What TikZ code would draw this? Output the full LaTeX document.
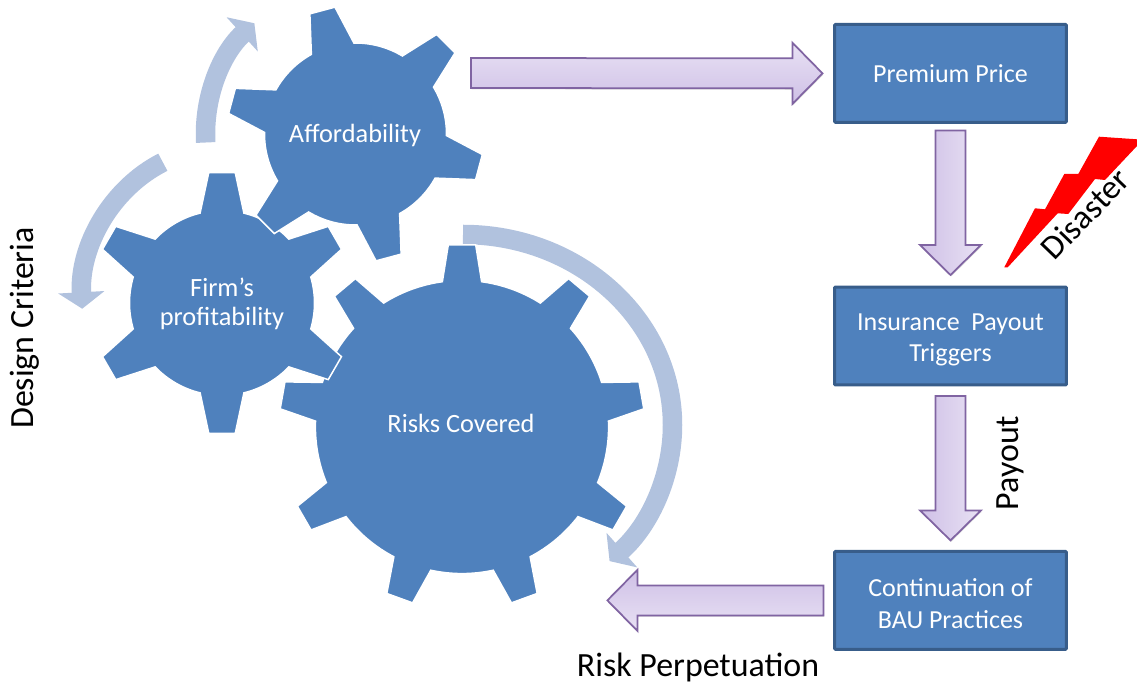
\documentclass[tikz,border=0pt]{standalone}
\usepackage{fontspec}
\setmainfont{Carlito}
\usetikzlibrary{calc,arrows.meta,shadows}

\definecolor{gearblue}{HTML}{4F81BD}
\definecolor{boxedge}{HTML}{385D8A}
\definecolor{turnblue}{HTML}{B1C2DE}
\definecolor{arrowedge}{HTML}{8064A2}
\definecolor{arrowdark}{HTML}{CFC0E6}
\definecolor{arrowlight}{HTML}{E8E1F4}

\tikzset{
  gearbody/.style={fill=gearblue, draw=white, line width=0.03cm},
  geartext/.style={text=white, align=center, font=\fontsize{15}{16.4}\selectfont},
  stagebox/.style={draw=boxedge, line width=0.06cm, fill=gearblue, rounded corners=0.02cm,
    minimum width=4.64cm, minimum height=1.96cm, inner sep=0pt, outer sep=0pt,
    text=white, align=center, font=\fontsize{14.8}{18}\selectfont},
  turnarrow/.style={draw=turnblue, line width=0.39cm, -{Triangle[length=0.33cm,width=0.91cm]}},
  arrowbody/.style={draw=arrowedge, line width=0.035cm, line join=miter,
    drop shadow={shadow xshift=0.4pt, shadow yshift=-0.8pt, opacity=0.25}},
  bigtext/.style={text=black, font=\fontsize{19.3}{22}\selectfont}
}

% gear: centre, inner radius, outer radius, teeth, first tooth angle, half tip, half base
\newcommand{\gear}[7]{
  \path[gearbody, shift={(#1)}] ({#5-#7}:#2)
    \foreach \i [evaluate=\i as \a using #5+(\i-1)*360/#4] in {1,...,#4} {
      -- ({\a-#6}:#3) -- ({\a+#6}:#3) -- ({\a+#7}:#2)
      arc[start angle=\a+#7, end angle=\a+360/#4-#7, radius=#2]
    } -- cycle;
}

% block arrow from #1 to #2, #3 holds the shading
\newcommand{\blockarrow}[3]{
  \coordinate (head) at ($(#2)!0.6cm!(#1)$);
  \path[arrowbody, #3] ($(#1)!0.3cm!90:(#2)$) -- ($(head)!0.3cm!90:(#2)$)
    -- ($(head)!0.61cm!90:(#2)$) -- (#2) -- ($(head)!0.61cm!-90:(#2)$)
    -- ($(head)!0.3cm!-90:(#2)$) -- ($(#1)!0.3cm!-90:(#2)$) -- cycle;
}

\begin{document}
\begin{tikzpicture}[x=0.02cm, y=0.02cm]
  \useasboundingbox (0,0) rectangle (1137,686);

  % Turning arrows round the gears
  \draw[turnarrow] (355.5,552) ++(183.25:150) arc[start angle=183.25, end angle=132.4, radius=150];
  \draw[turnarrow] (222,386) ++(115:140 and 152) arc[start angle=115, end angle=183.3, x radius=140, y radius=152];
  \draw[turnarrow] (463,261) ++(90:209.5 and 190.5) arc[start angle=90, end angle=-45.6, x radius=209.5, y radius=190.5];

  % Gears, last one on top
  \gear{462,259}{146.6}{182.7}{9}{90}{4.3}{7.7}
  \gear{222,383}{92.5}{131}{6}{90}{5.8}{13.7}
  \gear{355.5,552}{91}{128.5}{6}{105}{5.8}{14}
  \node[geartext] (risks) at (461,263) {Risks Covered};
  \node[geartext] (firm) at (222,382) {Firm’s\\profitability};
  \node[geartext] (afford) at (355,551) {Affordability};

  % Stages
  \node[stagebox] (premium) at (950.5,612.6) {Premium Price};
  \node[stagebox] (trigger) at (950.5,350) {\rule{0pt}{14pt}Insurance\ \ Payout\\Triggers};
  \node[stagebox] (practice) at (950.5,85.6) {\rule{0pt}{14pt}Continuation of\\BAU Practices};

  % Free ends of the block arrows
  \coordinate (priceout) at (471,613);
  \coordinate (pricein) at ($(premium.west)+(-12,0)$);
  \coordinate (premiumout) at ($(premium.south)+(0,-8)$);
  \coordinate (triggerin) at ($(trigger.north)+(0,12)$);
  \coordinate (triggerout) at ($(trigger.south)+(0,-11)$);
  \coordinate (practicein) at ($(practice.north)+(0,11)$);
  \coordinate (practiceout) at ($(practice.west)+(-11,0)$);
  \coordinate (riskin) at (607.4,85.6);

  \blockarrow{priceout}{pricein}{top color=arrowlight, bottom color=arrowdark}
  \blockarrow{premiumout}{triggerin}{left color=arrowdark, right color=arrowlight}
  \blockarrow{triggerout}{practicein}{left color=arrowdark, right color=arrowlight}
  \blockarrow{practiceout}{riskin}{top color=arrowdark, bottom color=arrowlight}

  % Lightning
  \fill[red] (1004.3,418.7) -- (1035,477.7) -- (1045,476.7) -- (1064.3,512) -- (1078.3,512)
    -- (1099,549.3) -- (1137,546.7) -- (1137,540) -- (1105,506) -- (1095,507)
    -- (1068.3,472) -- (1057.7,472.7) -- (1007.7,418.7) -- cycle;

  % Labels
  \node[bigtext, rotate=46] (disaster) at (1085,472) {Disaster};
  \node[bigtext, rotate=90] (payout) at (1010.5,223) {Payout};
  \node[bigtext, rotate=90] (design) at (25,358) {Design Criteria};
  \node[bigtext] (perpetuation) at (698,19) {Risk Perpetuation};
\end{tikzpicture}
\end{document}
